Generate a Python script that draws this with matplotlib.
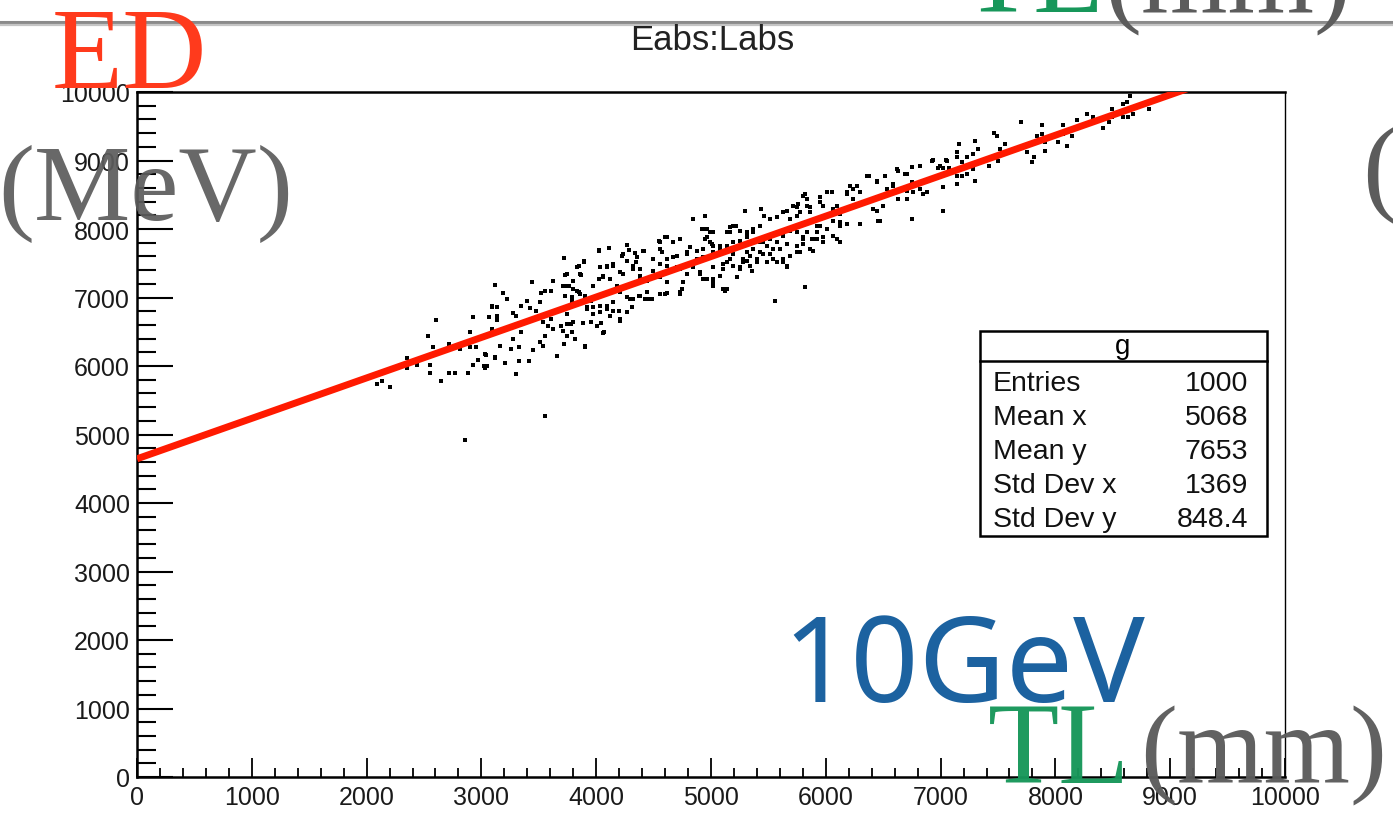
import matplotlib.pyplot as plt
from matplotlib.lines import Line2D
from matplotlib.patches import Rectangle
from matplotlib.ticker import MultipleLocator

# scatter points (Labs in mm, Eabs in MeV)
labs_left = [2605, 2535, 2578, 2352, 2352, 2439, 2552, 2552, 2091, 2134, 2204, 2648,
             2718, 2770, 2883, 2857, 2718, 2814, 2901, 2927, 2901, 2953, 2927, 2970,
             3031, 3049, 3040, 3118, 3092, 3066, 3136, 3092]
eabs_left = [6672, 6438, 6277, 6117, 5971, 6015, 6015, 5898, 5737, 5781, 5693, 5781,
             5898, 5898, 5898, 4920, 6321, 6248, 6496, 6715, 6277, 6277, 6015, 6088,
             5971, 6000, 6161, 6117, 6876, 6715, 6672, 6511]

labs_mid = [3118, 3188, 3223, 3092, 3136, 3136, 3092, 3031, 3023, 3118, 3206, 3162,
            3258, 3275, 3301, 3327, 3415, 3327, 3345, 3301, 3275, 3345, 3397, 3441,
            3423, 3476, 3511, 3519, 3554, 3606, 3624, 3720, 3728, 3746, 3798, 3833,
            3789, 3859, 3859, 3894, 3850, 3537, 3580, 3606, 3624, 3554, 3537, 3511,
            3450, 3659, 3720, 3746, 3789, 3780, 3693, 3902, 3955, 4007, 3972, 3920,
            4033, 4094, 4146, 4068, 4207, 4268, 4312, 4268, 4320, 4382, 4443, 4486,
            4443, 4556, 4617, 4730, 3972, 4024, 4059, 4094, 4146, 4024, 4111, 4233,
            4268, 4338, 4416, 4347, 4320, 4382, 4443, 4495, 4495, 4573, 4556, 4617,
            4669, 4730, 4704, 4617, 4730, 4791, 4843, 4904, 4965, 5017, 4991, 5017,
            5078, 5139, 5139, 5139, 4922, 4991, 4843, 4747, 4207, 4207, 3554]
eabs_mid = [7182, 7066, 6978, 6861, 6861, 6730, 6540, 6175, 6000, 6131, 6044, 6292,
            6248, 6394, 5883, 6073, 6073, 6277, 6496, 6730, 6774, 6876, 6949, 7226,
            6847, 6803, 6934, 7066, 7095, 7095, 7241, 7577, 7328, 7168, 7124, 7095,
            7007, 7051, 7343, 7518, 7460, 6642, 6584, 6686, 6540, 6438, 6292, 6350,
            6234, 6146, 6321, 6438, 6496, 6613, 6584, 6292, 6642, 6584, 6759, 6832,
            6876, 6832, 6803, 6496, 6686, 6788, 6861, 7007, 6978, 7022, 6978, 6978,
            7080, 7051, 7066, 7080, 7168, 7270, 7314, 7460, 7489, 7679, 7723, 7635,
            7766, 7650, 7679, 7518, 7416, 7314, 7241, 7299, 7562, 7664, 7810, 7883,
            7810, 7854, 7606, 7460, 7416, 7664, 7518, 7372, 7270, 7226, 7606, 7752,
            7752, 7956, 7518, 7124, 8000, 7956, 8146, 7124, 7080, 7372, 5270]

labs_core = [3833, 3894, 3746, 3868, 3711, 3763, 3798, 3850, 3728, 3789, 3902, 3955,
             3972, 3920, 3972, 4033, 4094, 4146, 4199, 4120, 4207, 3746, 3798, 3885,
             4042, 3711, 3789, 3815, 4059, 3902, 4024, 4033, 4094, 4146, 4059, 4120,
             4181, 4233, 4225, 4268, 4286, 4320, 4355, 4382, 4408, 4382, 4443, 4495,
             4495, 4556, 4556, 4547, 4599, 4669, 4617, 4669, 4704, 4556, 4617, 4556,
             4599, 4425, 4373, 4294, 4469, 4730, 4756, 4791, 4843, 4878, 4791, 4817,
             4878, 4948, 4965, 5009, 4930, 4904, 4965, 5017, 5105, 5017, 5105, 5166,
             5192, 5253, 5314, 5192, 5314, 5366, 5253, 5166, 5366, 5357, 5226, 3746,
             5366, 5314, 5427, 5627, 5688, 5749, 5714, 5801, 5862, 5758, 5836, 5949,
             6098, 6185, 6211, 6272, 6237, 6298, 6359, 6446, 6516, 6446, 6498, 6585,
             6533, 6707, 6751, 6760, 6847, 6620, 6707, 6455, 6124, 6124, 6063, 6010,
             5923, 5923, 5976, 5836, 5801, 5801, 5749, 5688, 5627, 5662, 5575, 5514,
             5488, 5540, 5601, 5427, 5366, 5453, 5401, 5314, 5279, 5340, 5540, 5627,
             5688, 5749, 5862, 5880, 6098, 5662]
eabs_core = [7445, 7533, 7343, 7328, 7168, 7168, 7241, 7080, 7022, 6949, 7022, 6949,
             6861, 6861, 6759, 6788, 6876, 6934, 6803, 6730, 6657, 6613, 6642, 6628,
             6628, 6511, 6496, 6394, 6482, 6277, 7693, 7445, 7445, 7460, 7299, 7270,
             7168, 7343, 7606, 7533, 7693, 7460, 7591, 7416, 7679, 7299, 7270, 7562,
             7387, 7708, 7489, 7825, 7883, 7810, 7562, 7591, 7445, 7299, 7226, 7051,
             7051, 6978, 7022, 6978, 6978, 7051, 7226, 7343, 7445, 7562, 7635, 7737,
             7679, 7854, 8000, 7781, 7591, 7343, 7270, 7197, 7124, 7445, 7489, 7562,
             7635, 7445, 7533, 7810, 7883, 7971, 7971, 8029, 7708, 7387, 7299, 6759,
             8000, 7898, 8044, 8248, 8146, 8190, 8336, 8482, 8321, 8365, 8438, 8394,
             8336, 8511, 8628, 8628, 8438, 8540, 8774, 8701, 8774, 8467, 8336, 8628,
             8584, 8555, 8686, 8540, 8511, 8876, 8803, 8117, 8219, 8044, 7898, 8000,
             8044, 7854, 7810, 7956, 7854, 7781, 7956, 7971, 7898, 7781, 7810, 7854,
             7752, 7708, 7708, 7810, 7810, 7635, 7562, 7664, 7562, 7460, 7562, 7518,
             7606, 7664, 7708, 7854, 7854, 7460]

labs_upper = [4948, 4930, 4965, 5017, 4991, 4930, 5017, 5078, 5139, 5166, 5192, 5218,
              5253, 5314, 5296, 5366, 5436, 5462, 5514, 5575, 5662, 5749, 5775, 5836,
              5862, 5819, 5949, 6010, 6054, 5976, 6063, 6185, 6237, 6298, 6376, 6446,
              6516, 6472, 6411, 6446, 6472, 6298, 6185, 6124, 6063, 5949, 5923, 5888,
              5976, 6063, 6124, 5888, 5801, 5749, 5775, 5688, 5627, 5601, 5540, 5514,
              5453, 5427, 5366, 5340, 5401, 5488, 5575, 5662, 5279, 5253, 5192, 5105,
              5078, 5017, 5017, 4930, 5122, 5226, 5557, 5819, 6821, 6925, 6995, 7056,
              6751, 6690, 6629, 6882, 6821, 6707, 6629, 7021, 6751, 6585]
eabs_upper = [8190, 8000, 7883, 7956, 7810, 7708, 7664, 7708, 7752, 7956, 8044, 8044,
              7825, 7956, 8263, 7956, 8292, 8190, 8146, 8175, 8263, 8321, 8248, 8336,
              8248, 8511, 8467, 8540, 8540, 8336, 8292, 8540, 8584, 8540, 8774, 8686,
              8774, 8482, 8292, 8263, 8117, 8073, 8073, 8102, 8117, 8044, 7956, 7854,
              7883, 7898, 7810, 7679, 7883, 7752, 7664, 7606, 7562, 7708, 7708, 7635,
              7810, 7664, 7708, 7606, 7518, 7518, 7518, 7445, 7518, 7416, 7460, 7416,
              7314, 7270, 7168, 7270, 7095, 7299, 6949, 7153, 8920, 8993, 8920, 8993,
              8905, 8803, 8847, 8540, 8584, 8438, 8438, 8263, 8146, 8657]

labs_top = [6934, 7047, 7021, 6977, 7073, 7021, 7143, 7186, 7143, 7186, 7143, 7160,
            7143, 7230, 7282, 7282, 7300, 7230, 7300, 7326, 7422, 7465, 7491, 7500,
            7517, 7561, 7700, 7753, 7796, 7813, 7840, 7883, 7883, 7909, 7909, 8023,
            8066, 8066, 8101, 8145, 8188, 8275, 8328, 8415, 8467, 8493, 8493, 8589,
            8624, 8650, 8589, 8633, 8676, 8815]
eabs_top = [9007, 9007, 8891, 8891, 8891, 8613, 8774, 8774, 8657, 8978, 9124, 9241,
            9051, 9051, 9095, 8876, 8701, 8803, 9285, 9168, 8920, 9401, 9358, 8993,
            9168, 9241, 9562, 9124, 8978, 9051, 9358, 9518, 9387, 9270, 9139, 9270,
            9518, 9387, 9212, 9358, 9591, 9679, 9635, 9474, 9562, 9635, 9752, 9825,
            9854, 9942, 9635, 9635, 9679, 9752]

labs = labs_left + labs_mid + labs_core + labs_upper + labs_top
eabs = eabs_left + eabs_mid + eabs_core + eabs_upper + eabs_top

# red fit line: Eabs = p0 + p1 * Labs
fit_p0 = 4645
fit_p1 = 0.5905
fit_x = [0, 10000]

stat_names = ["Entries", "Mean x", "Mean y", "Std Dev x", "Std Dev y"]
stat_values = ["1000", "5068", "7653", "1369", "848.4"]

W, H = 1393, 820


def fx(px):
    return px / W


def fy(py):
    return 1 - py / H


fig = plt.figure(figsize=(W / 100, H / 100), dpi=100)
fig.patch.set_facecolor("white")

ax = fig.add_axes([fx(137), fy(778), (1285 - 137) / W, (778 - 93) / H])
ax.set_xlim(0, 10000)
ax.set_ylim(0, 10000)

ax.scatter(labs, eabs, s=8, marker="s", color="black", linewidths=0, zorder=2)
ax.plot(fit_x, [fit_p0 + fit_p1 * v for v in fit_x], color="#ff1a00", lw=5,
        solid_capstyle="butt", zorder=3)

ax.xaxis.set_major_locator(MultipleLocator(1000))
ax.xaxis.set_minor_locator(MultipleLocator(200))
ax.yaxis.set_major_locator(MultipleLocator(1000))
ax.yaxis.set_minor_locator(MultipleLocator(200))
ax.tick_params(axis="x", which="major", direction="in", length=13.5, width=1.3,
               top=False, pad=6, labelsize=18, labelcolor="#1a1a1a")
ax.tick_params(axis="x", which="minor", direction="in", length=6.5, width=1.3, top=False)
ax.tick_params(axis="y", which="major", direction="in", length=26, width=1.5,
               right=False, pad=5, labelsize=18, labelcolor="#1a1a1a")
ax.tick_params(axis="y", which="minor", direction="in", length=14, width=1.5, right=False)
for lab in ax.get_xticklabels() + ax.get_yticklabels():
    lab.set_family("Liberation Sans")
for side in ["left", "bottom", "top"]:
    ax.spines[side].set_linewidth(1.8)
ax.spines["right"].set_linewidth(1.0)

# slide frame line across the top
fig.add_artist(Line2D([0, 1], [fy(22.5), fy(22.5)], transform=fig.transFigure,
                      color="#8a8a8a", lw=2.2, zorder=1))
fig.add_artist(Line2D([0, 1], [fy(25.5), fy(25.5)], transform=fig.transFigure,
                      color="#c4c4c4", lw=1.6, zorder=1))

fig.text(fx(712), fy(40), "Eabs:Labs", ha="center", va="center", fontsize=25,
         family="Liberation Sans", color="#222222")

# stats box
fig.add_artist(Rectangle((fx(980), fy(537)), 287 / W, 205 / H, transform=fig.transFigure,
                         facecolor="white", edgecolor="black", lw=1.8, zorder=4))
fig.add_artist(Line2D([fx(980), fx(1267)], [fy(362), fy(362)], transform=fig.transFigure,
                      color="black", lw=1.8, zorder=5))
fig.text(fx(1123), fy(347), "g", ha="center", va="center", fontsize=20,
         family="Liberation Sans", zorder=6)
for i, (name, val) in enumerate(zip(stat_names, stat_values)):
    yy = fy(384 + i * 34)
    fig.text(fx(993), yy, name, ha="left", va="center", fontsize=20.5,
             family="Liberation Sans", color="#111111", zorder=6)
    fig.text(fx(1248), yy, val, ha="right", va="center", fontsize=20.5,
             family="Liberation Sans", color="#111111", zorder=6)

# big slide labels laid over the plot
serif = "Liberation Serif"
gray = "#5c5c5c"
green = "#17975a"
fig.text(fx(52), fy(88), "ED", ha="left", va="baseline", fontsize=84, family=serif,
         color="#ff3a1c", zorder=7)
fig.text(fx(-2), fy(220), "(MeV)", ha="left", va="baseline", fontsize=78, family=serif,
         color=gray, alpha=0.93, zorder=7)
fig.text(fx(963), fy(12), "TL", ha="left", va="baseline", fontsize=84, family=serif,
         color=green, zorder=7)
fig.text(fx(1104), fy(12), "(mm)", ha="left", va="baseline", fontsize=80, family=serif,
         color=gray, zorder=7)
fig.text(fx(1362), fy(202), "(", ha="left", va="baseline", fontsize=80, family=serif,
         color=gray, zorder=7)
fig.text(fx(988), fy(783), "TL", ha="left", va="baseline", fontsize=84, family=serif,
         color=green, alpha=0.97, zorder=7)
fig.text(fx(1140), fy(783), "(mm)", ha="left", va="baseline", fontsize=80, family=serif,
         color=gray, alpha=0.97, zorder=7)
fig.text(fx(782), fy(702), "10GeV", ha="left", va="baseline", fontsize=86,
         family="Noto Sans", color="#1c62a0", zorder=7)

fig.savefig("out.png", dpi=100)
